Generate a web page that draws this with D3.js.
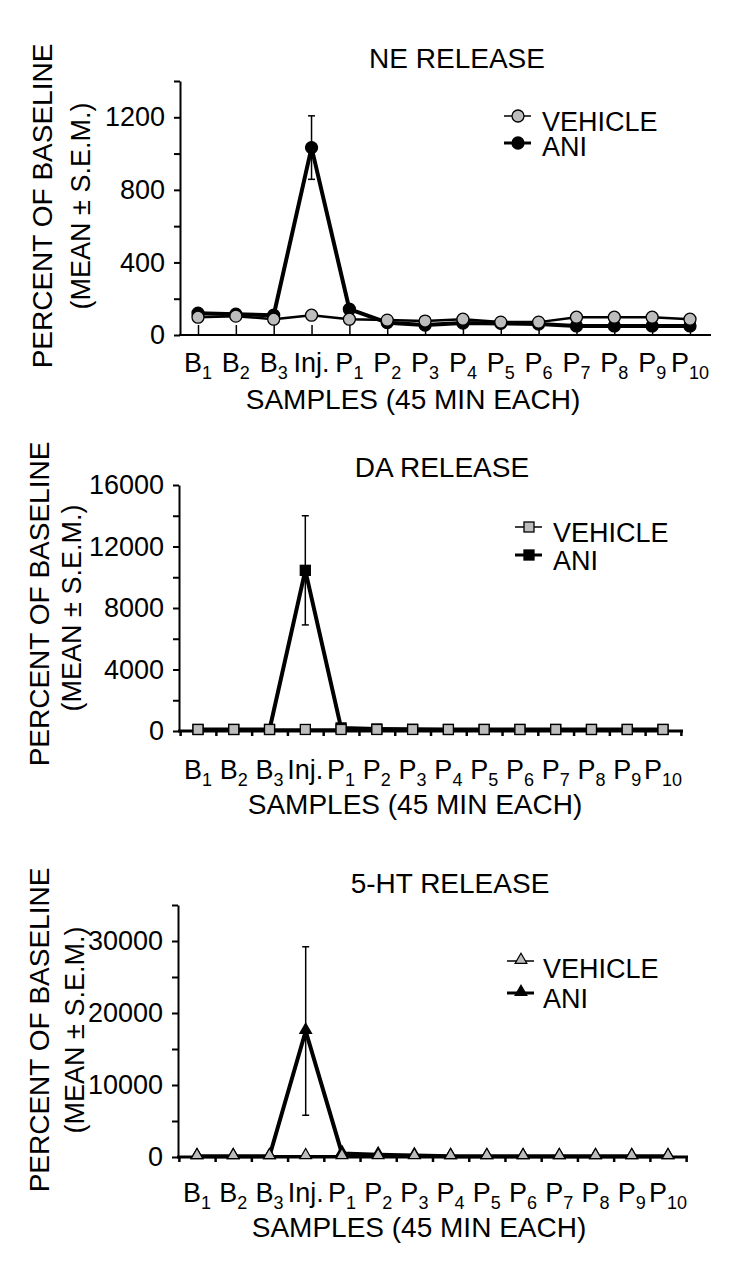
<!DOCTYPE html>
<html>
<head>
<meta charset="utf-8">
<script src="https://cdn.jsdelivr.net/npm/d3@7"></script>
<style>
  body { margin: 0; background: #fff; }
  text { font-family: "Liberation Sans", Arial, sans-serif; fill: #000; }
</style>
</head>
<body>
<div id="chart"></div>
<script>
// samples (45 min each)
var categories = ["B1", "B2", "B3", "Inj.", "P1", "P2", "P3", "P4", "P5", "P6", "P7", "P8", "P9", "P10"];

// NE release, percent of baseline
var neVehicle = [98, 104, 87, 109, 87, 82, 77, 87, 71, 71, 98, 98, 98, 87];
var neAni     = [120, 115, 109, 1033, 142, 68, 55, 66, 64, 60, 50, 50, 50, 50];
var neAniSem  = [0, 0, 0, 175, 0, 0, 0, 0, 0, 0, 0, 0, 0, 0];
var neTicks   = [0, 200, 400, 600, 800, 1000, 1200, 1400];
var neLabels  = [0, 400, 800, 1200];

// DA release
var daVehicle = [100, 100, 100, 100, 100, 100, 100, 100, 100, 100, 100, 100, 100, 100];
var daAni     = [100, 100, 100, 10450, 200, 130, 110, 100, 100, 100, 100, 100, 100, 100];
var daAniSem  = [0, 0, 0, 3550, 0, 0, 0, 0, 0, 0, 0, 0, 0, 0];
var daTicks   = [0, 2000, 4000, 6000, 8000, 10000, 12000, 14000, 16000];
var daLabels  = [0, 4000, 8000, 12000, 16000];

// 5-HT release
var htVehicle = [100, 100, 100, 100, 100, 100, 100, 100, 100, 100, 100, 100, 100, 100];
var htAni     = [100, 100, 100, 17500, 500, 300, 200, 120, 100, 100, 100, 100, 100, 100];
var htAniSem  = [0, 0, 0, 11700, 0, 0, 0, 0, 0, 0, 0, 0, 0, 0];
var htTicks   = [0, 5000, 10000, 15000, 20000, 25000, 30000, 35000];
var htLabels  = [0, 10000, 20000, 30000];

var seriesNames = ["VEHICLE", "ANI"];

var width = 750, height = 1270;
var svg = d3.select("#chart").append("svg").attr("width", width).attr("height", height);

// layout of each panel
var panels = [
  { title: "NE RELEASE", vehicle: neVehicle, ani: neAni, sem: neAniSem, ticks: neTicks, labels: neLabels,
    marker: "circle", axisX: 180, x0: 198, x1: 690, xEnd: 711, y0: 335, yTop: 81,
    titleX: 457, titleY: 68, tickY: 372, xTitleX: 413, xTitleY: 409,
    yl1: [42, 206], yl2: [80, 206], legX: 518, legText: 542, legY: [116, 143], legTY: [131, 156],
    innerTicks: true },
  { title: "DA RELEASE", vehicle: daVehicle, ani: daAni, sem: daAniSem, ticks: daTicks, labels: daLabels,
    marker: "square", axisX: 179, x0: 198, x1: 663, xEnd: 683, y0: 731, yTop: 485,
    titleX: 442, titleY: 477, tickY: 779, xTitleX: 415, xTitleY: 814,
    yl1: [39, 604], yl2: [71, 608], legX: 529, legText: 553, legY: [527, 555], legTY: [542, 570],
    innerTicks: false },
  { title: "5-HT RELEASE", vehicle: htVehicle, ani: htAni, sem: htAniSem, ticks: htTicks, labels: htLabels,
    marker: "triangle", axisX: 178, x0: 197, x1: 668, xEnd: 688, y0: 1157, yTop: 905,
    titleX: 450, titleY: 893, tickY: 1202, xTitleX: 419, xTitleY: 1237,
    yl1: [39, 1030], yl2: [74, 1030], legX: 521, legText: 543, legY: [961, 993], legTY: [978, 1008],
    innerTicks: false }
];

function drawMarker(g, type, cx, cy, fill) {
  if (type === "circle") {
    g.append("circle").attr("cx", cx).attr("cy", cy).attr("r", 6)
      .attr("fill", fill).attr("stroke", "#000").attr("stroke-width", 1.3);
  } else if (type === "square") {
    g.append("rect").attr("x", cx - 5).attr("y", cy - 5).attr("width", 10).attr("height", 10)
      .attr("fill", fill).attr("stroke", "#000").attr("stroke-width", 1.3);
  } else {
    g.append("path").attr("transform", "translate(" + cx + "," + (cy - 1) + ")")
      .attr("d", d3.symbol(d3.symbolTriangle, 60)())
      .attr("fill", fill).attr("stroke", "#000").attr("stroke-width", 1.2);
  }
}

panels.forEach(function(p) {
  var g = svg.append("g");
  var x = d3.scalePoint().domain(categories).range([p.x0, p.x1]);
  var y = d3.scaleLinear().domain([0, p.ticks[p.ticks.length - 1]]).range([p.y0, p.yTop]);

  // title
  g.append("text").attr("x", p.titleX).attr("y", p.titleY).attr("text-anchor", "middle")
    .attr("font-size", 28).text(p.title);

  // y axis
  var yAxis = g.append("g").attr("transform", "translate(" + p.axisX + ",0)")
    .call(d3.axisLeft(y).tickValues(p.ticks).tickSize(6).tickSizeOuter(0).tickPadding(9)
      .tickFormat(function(d) { return p.labels.indexOf(d) >= 0 ? d : ""; }));
  yAxis.select(".domain").attr("stroke-width", 2);
  yAxis.selectAll(".tick line").attr("stroke-width", 2);
  yAxis.selectAll(".tick text").attr("font-size", 27).attr("font-family", "Liberation Sans, Arial, sans-serif");

  // y axis titles
  g.append("text").attr("transform", "translate(" + (p.yl1[0] + 10) + "," + p.yl1[1] + ") rotate(-90)")
    .attr("text-anchor", "middle").attr("font-size", 28).text("PERCENT OF BASELINE");
  g.append("text").attr("transform", "translate(" + (p.yl2[0] + 10) + "," + p.yl2[1] + ") rotate(-90)")
    .attr("text-anchor", "middle").attr("font-size", 27).text("(MEAN \u00B1 S.E.M.)");

  // x axis line
  g.append("line").attr("x1", p.axisX - 1).attr("x2", p.xEnd).attr("y1", p.y0).attr("y2", p.y0)
    .attr("stroke", "#000").attr("stroke-width", p.innerTicks ? 2 : 3);

  // x ticks
  if (p.innerTicks) {
    var xAxis = g.append("g").attr("transform", "translate(0," + p.y0 + ")")
      .call(d3.axisBottom(x).tickSize(-10).tickFormat(""));
    xAxis.select(".domain").remove();
    xAxis.selectAll(".tick line").attr("stroke-width", 1.5);
  } else {
    var xi = d3.scaleLinear().domain([0, categories.length - 1]).range([p.x0, p.x1]);
    var between = d3.range(-0.5, categories.length, 1);
    var xAxis2 = g.append("g").attr("transform", "translate(0," + p.y0 + ")")
      .call(d3.axisBottom(xi).tickValues(between).tickSize(5).tickFormat(""));
    xAxis2.select(".domain").remove();
    xAxis2.selectAll(".tick line").attr("stroke-width", 2.5);
  }

  // x tick labels with subscripts
  categories.forEach(function(c) {
    var m = c.match(/^([A-Za-z.]+)(\d*)$/);
    var t = g.append("text").attr("x", x(c)).attr("y", p.tickY).attr("text-anchor", "middle")
      .attr("font-size", 27);
    t.append("tspan").text(m[1]);
    if (m[2]) t.append("tspan").attr("font-size", 18).attr("dy", 7).text(m[2]);
  });

  // x axis title
  g.append("text").attr("x", p.xTitleX).attr("y", p.xTitleY).attr("text-anchor", "middle")
    .attr("font-size", 28).text("SAMPLES (45 MIN EACH)");

  var line = d3.line().x(function(d, i) { return x(categories[i]); }).y(function(d) { return y(d); });

  // error bars (ANI)
  p.sem.forEach(function(s, i) {
    if (!s) return;
    var cx = x(categories[i]);
    var top = y(p.ani[i] + s), bot = y(p.ani[i] - s);
    g.append("line").attr("x1", cx).attr("x2", cx).attr("y1", top).attr("y2", bot)
      .attr("stroke", "#000").attr("stroke-width", 1.5);
    [top, bot].forEach(function(yy) {
      g.append("line").attr("x1", cx - 3.5).attr("x2", cx + 3.5).attr("y1", yy).attr("y2", yy)
        .attr("stroke", "#000").attr("stroke-width", 1.5);
    });
  });

  // ANI line + markers
  g.append("path").datum(p.ani).attr("d", line).attr("fill", "none")
    .attr("stroke", "#000").attr("stroke-width", 4).attr("stroke-linejoin", "round");
  p.ani.forEach(function(v, i) { drawMarker(g, p.marker, x(categories[i]), y(v), "#000"); });

  // vehicle line + markers
  g.append("path").datum(p.vehicle).attr("d", line).attr("fill", "none")
    .attr("stroke", "#000").attr("stroke-width", 2.5).attr("stroke-linejoin", "round");
  p.vehicle.forEach(function(v, i) { drawMarker(g, p.marker, x(categories[i]), y(v), "#bdbdbd"); });

  // legend
  seriesNames.forEach(function(name, k) {
    var ly = p.legY[k];
    g.append("line").attr("x1", p.legX - 14).attr("x2", p.legX + 13).attr("y1", ly).attr("y2", ly)
      .attr("stroke", "#000").attr("stroke-width", k === 0 ? 1.5 : 3);
    drawMarker(g, p.marker, p.legX, ly, k === 0 ? "#bdbdbd" : "#000");
    g.append("text").attr("x", p.legText).attr("y", p.legTY[k]).attr("font-size", 27).text(name);
  });
});
</script>
</body>
</html>
